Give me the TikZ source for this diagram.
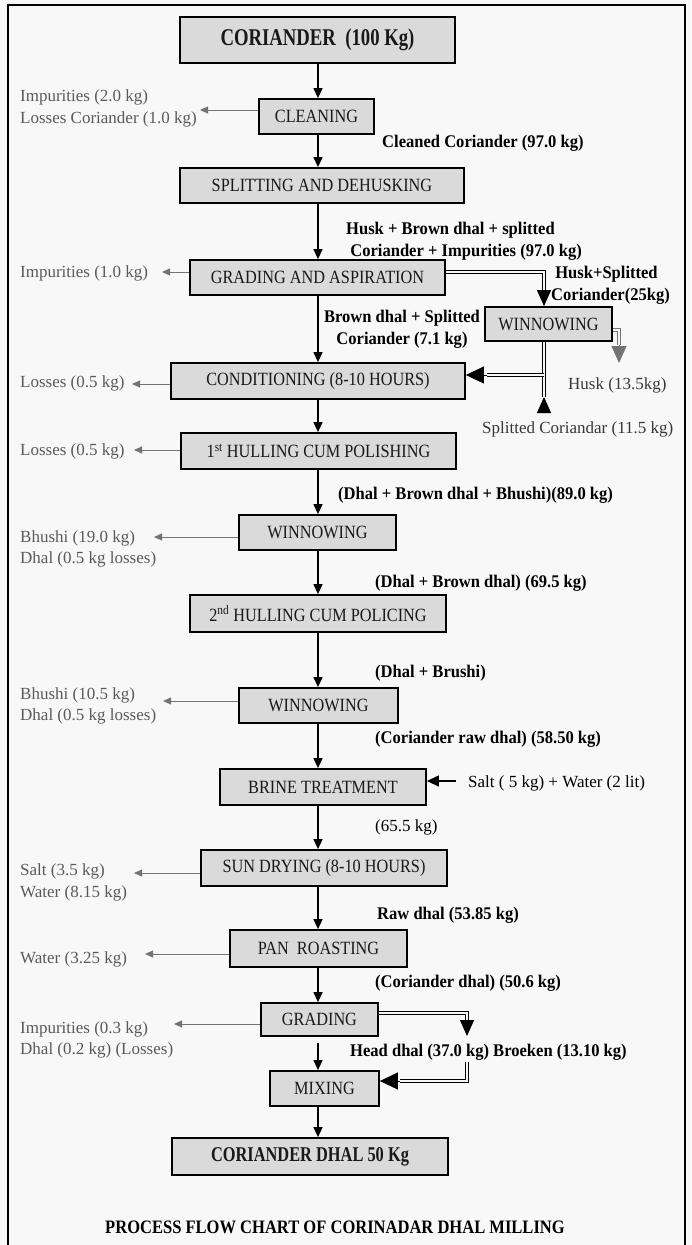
\documentclass[tikz,border=0pt]{standalone}
\usepackage{fontspec}
\setmainfont{Liberation Serif}
\newfontfamily\cond{Liberation Serif}[FakeStretch=0.87]
\newfontfamily\condx{Liberation Serif}[FakeStretch=0.78]
\newfontfamily\labf{Liberation Serif}[FakeStretch=0.93]
\usetikzlibrary{arrows.meta}
\definecolor{boxfill}{RGB}{218,218,218}
\definecolor{bg}{RGB}{248,248,248}
\definecolor{lossgray}{RGB}{90,90,90}
\definecolor{arrgray}{RGB}{115,115,115}
\definecolor{notegray}{RGB}{55,55,55}
\begin{document}
\begin{tikzpicture}[x=1pt,y=-1pt,
  proc/.style={draw=black, line width=1.8pt, fill=boxfill, inner sep=0pt, text=black!90,
    font=\cond\fontsize{18.7}{20}\selectfont},
  arr/.style={-{Triangle[length=10pt,width=9pt]}, line width=1.3pt},
  garr/.style={-{Triangle[length=8pt,width=7pt]}, draw=arrgray, line width=0.9pt},
  loss/.style={anchor=west, align=left, text=lossgray, inner sep=0pt, font=\fontsize{17}{21.5}\selectfont},
  flow/.style={anchor=west, align=left, inner sep=0pt, font=\labf\bfseries\fontsize{17.8}{22}\selectfont},
  note/.style={anchor=west, align=left, inner sep=0pt, text=notegray, font=\fontsize{17}{22}\selectfont},
  pipe/.style={double=bg, double distance=2.2pt, line width=0.8pt},
  bigtip/.style={-{Triangle[length=16pt,width=14pt]}, line width=1pt},
  gtip/.style={-{Triangle[length=17pt,width=15pt]}, draw=arrgray, fill=arrgray, line width=1pt},
]
\useasboundingbox (0,0) rectangle (691,1245);
\fill[bg] (0,0) rectangle (691,1245);
\draw[line width=1.8pt] (8,1250) -- (8,5) -- (685,5) -- (685,1250);

\coordinate (sp) at (318,0);

% process boxes
\node[proc, minimum width=275pt, minimum height=46pt, font=\condx\bfseries\fontsize{24}{26}\selectfont] (cor) at (317.5,40) {CORIANDER\ \ (100 Kg)};
\node[proc, minimum width=115pt, minimum height=35pt] (clean) at (316.5,116.5) {CLEANING};
\node[proc, minimum width=284pt, minimum height=35pt] (split) at (322,185.5) {SPLITTING AND DEHUSKING};
\node[proc, minimum width=255pt, minimum height=35pt] (grade) at (317.5,277.5) {GRADING AND ASPIRATION};
\node[proc, minimum width=127pt, minimum height=34pt] (winA) at (548.5,324) {WINNOWING};
\node[proc, minimum width=294pt, minimum height=36pt] (cond) at (318,381) {CONDITIONING (8-10 HOURS)};
\node[proc, minimum width=275pt, minimum height=36pt] (hull1) at (318.5,451) {1\textsuperscript{st} HULLING CUM POLISHING};
\node[proc, minimum width=157pt, minimum height=35pt] (win1) at (317.5,532.5) {WINNOWING};
\node[proc, minimum width=256pt, minimum height=37pt] (hull2) at (318,613.5) {2\textsuperscript{nd} HULLING CUM POLICING};
\node[proc, minimum width=159pt, minimum height=35pt] (win2) at (318.5,705.5) {WINNOWING};
\node[proc, minimum width=206pt, minimum height=36pt] (brine) at (323,787) {BRINE TREATMENT};
\node[proc, minimum width=246pt, minimum height=36pt] (sun) at (324,868) {SUN DRYING (8-10 HOURS)};
\node[proc, minimum width=177pt, minimum height=37pt] (pan) at (318.5,948.5) {PAN\ \ ROASTING};
\node[proc, minimum width=117pt, minimum height=33pt] (grd2) at (319.5,1019.5) {GRADING};
\node[proc, minimum width=109pt, minimum height=35pt] (mix) at (324.5,1088.5) {MIXING};
\node[proc, minimum width=276pt, minimum height=37pt, font=\condx\bfseries\fontsize{21}{23}\selectfont] (final) at (310,1156.5) {CORIANDER DHAL 50 Kg};

% main flow
\draw[arr] (cor.south -| sp) -- (clean.north -| sp);
\draw[arr] (clean.south -| sp) -- (split.north -| sp);
\draw[arr] (split.south -| sp) -- (grade.north -| sp);
\draw[arr] (grade.south -| sp) -- (cond.north -| sp);
\draw[arr] (cond.south -| sp) -- (hull1.north -| sp);
\draw[arr] (hull1.south -| sp) -- (win1.north -| sp);
\draw[arr] (win1.south -| sp) -- (hull2.north -| sp);
\draw[arr] (hull2.south -| sp) -- (win2.north -| sp);
\draw[arr] (win2.south -| sp) -- (brine.north -| sp);
\draw[arr] (brine.south -| sp) -- (sun.north -| sp);
\draw[arr] (sun.south -| sp) -- (pan.north -| sp);
\draw[arr] (pan.south -| sp) -- (grd2.north -| sp);
\draw[arr] ([yshift=-6pt]grd2.south -| sp) -- (mix.north -| sp);
\draw[arr] (mix.south -| sp) -- (final.north -| sp);

% losses (left)
\node[loss] (l1) at (20,108.5) {Impurities (2.0 kg)\\Losses Coriander (1.0 kg)};
\coordinate (t1) at (200,110);
\draw[garr] (clean.west |- t1) -- (t1);
\node[loss] (l2) at (20,273) {Impurities (1.0 kg)};
\coordinate (t2) at (162,272);
\draw[garr] (grade.west |- t2) -- (t2);
\node[loss] (l3) at (20,383) {Losses (0.5 kg)};
\coordinate (t3) at (132,384);
\draw[garr] (cond.west |- t3) -- (t3);
\node[loss] (l4) at (20,451) {Losses (0.5 kg)};
\coordinate (t4) at (134,450);
\draw[garr] (hull1.west |- t4) -- (t4);
\node[loss] (l5) at (20,549) {Bhushi (19.0 kg)\\Dhal (0.5 kg losses)};
\coordinate (t5) at (154,537);
\draw[garr] (win1.west |- t5) -- (t5);
\node[loss] (l6) at (20,706) {Bhushi (10.5 kg)\\Dhal (0.5 kg losses)};
\coordinate (t6) at (163,701);
\draw[garr] (win2.west |- t6) -- (t6);
\node[loss] (l7) at (20,882.5) {Salt (3.5 kg)\\Water (8.15 kg)};
\coordinate (t7) at (134,873);
\draw[garr] (sun.west |- t7) -- (t7);
\node[loss] (l8) at (20,959) {Water (3.25 kg)};
\coordinate (t8) at (145,954);
\draw[garr] (pan.west |- t8) -- (t8);
\node[loss] (l9) at (20,1040) {Impurities (0.3 kg)\\Dhal (0.2 kg) (Losses)};
\coordinate (t9) at (174,1024);
\draw[garr] (grd2.west |- t9) -- (t9);

% flow labels (right)
\node[flow] (r1) at (382,143) {Cleaned Coriander (97.0 kg)};
\node[flow] (r2) at (346,241) {Husk + Brown dhal + splitted\\\ Coriander + Impurities (97.0 kg)};
\node[flow, anchor=center, align=center] (r3) at (402,329) {Brown dhal + Splitted\\Coriander (7.1 kg)};
\node[flow] (r4) at (551,285) {\ Husk+Splitted\\Coriander(25kg)};
\node[note] (r5) at (568,385) {Husk (13.5kg)};
\node[note] (r6) at (482,429) {Splitted Coriandar (11.5 kg)};
\node[flow] (r7) at (338,495) {(Dhal + Brown dhal + Bhushi)(89.0 kg)};
\node[flow] (r8) at (375,583) {(Dhal + Brown dhal) (69.5 kg)};
\node[flow] (r9) at (375,673) {(Dhal + Brushi)};
\node[flow] (r10) at (375,739) {(Coriander raw dhal) (58.50 kg)};
\node[note, text=black] (r11) at (468,783) {Salt ( 5 kg) + Water (2 lit)};
\node[note, text=black] (r12) at (375,827) {(65.5 kg)};
\node[flow] (r13) at (377,915) {Raw dhal (53.85 kg)};
\node[flow] (r14) at (375,983) {(Coriander dhal) (50.6 kg)};
\node[flow] (r15) at (350,1052) {Head dhal (37.0 kg) Broeken (13.10 kg)};

% grading & aspiration -> winnowing
\coordinate (gA) at (544,272);
\coordinate (gB) at (544,290);
\draw[pipe] (grade.east |- gA) -- (gA) -- (gB);
\draw[bigtip] (gB) -- (winA.north -| gB);

% winnowing -> husk
\coordinate (hA) at (619,330);
\coordinate (hB) at (619,345);
\coordinate (hT) at (619,363);
\draw[pipe, draw=arrgray] (winA.east |- hA) -- (hA) -- (hB);
\draw[gtip] (hB) -- (hT);

% winnowing -> conditioning, splitted coriander
\coordinate (sA) at (544,397);
\coordinate (sB) at (544,411);
\coordinate (cJ) at (544,375);
\coordinate (cK) at (487,375);
\draw[pipe] (winA.south -| sA) -- (sA);
\draw[bigtip] (sB) -- (sA);
\draw[pipe] (cJ) -- (cK);
\draw[bigtip, -{Triangle[length=18pt,width=17pt]}] (cK) -- (cond.east |- cK);

% salt + water
\coordinate (sw) at (456,781);
\draw[arr, -{Triangle[length=12pt,width=11pt]}] (sw) -- (brine.east |- sw);

% grading -> mixing (broken)
\coordinate (g1) at (467,1013);
\coordinate (g2) at (467,1021);
\coordinate (g3) at (467,1036);
\draw[pipe] (grd2.east |- g1) -- (g1) -- (g2);
\draw[bigtip] (g2) -- (g3);
\coordinate (m1) at (467,1062);
\coordinate (m2) at (467,1081);
\coordinate (m3) at (400,1081);
\draw[pipe] (m1) -- (m2) -- (m3);
\draw[bigtip, -{Triangle[length=18pt,width=17pt]}] (m3) -- (mix.east |- m3);

% title
\node[inner sep=0pt, font=\cond\bfseries\fontsize{19}{21}\selectfont] (title) at (335,1227) {PROCESS FLOW CHART OF CORINADAR DHAL MILLING};
\end{tikzpicture}
\end{document}
